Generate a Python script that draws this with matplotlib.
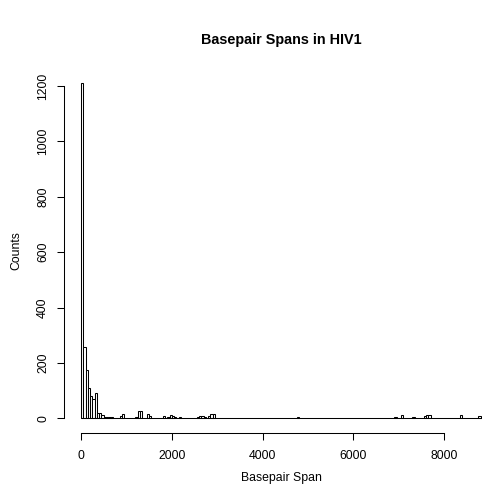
import matplotlib
matplotlib.use("Agg")
import matplotlib.pyplot as plt
import numpy as np

# histogram of basepair spans, 50 bp bins (left edges of non-empty bins)
bin_width = 50
bin_left = [0, 50, 100, 150, 200, 250, 300, 350, 400, 450, 500, 550, 600, 650,
            850, 900, 1200, 1250, 1300, 1450, 1500, 1800, 1900, 1950, 2000,
            2050, 2150, 2550, 2600, 2650, 2700, 2800, 2850, 2900, 4750, 6900,
            7050, 7300, 7550, 7600, 7650, 8350, 8750]
counts = [1210, 258, 174, 108, 80, 70, 90, 20, 18, 12, 5, 3, 4, 3,
          10, 14, 5, 28, 28, 15, 10, 10, 6, 12, 8,
          4, 3, 6, 8, 8, 5, 10, 16, 16, 3, 4,
          12, 4, 10, 12, 12, 12, 8]
data_max = 8850

x_ticks = [0, 2000, 4000, 6000, 8000]
y_ticks = [0, 200, 400, 600, 800, 1000, 1200]

plt.rcParams['font.family'] = ['Liberation Sans', 'DejaVu Sans']

W, H = 482, 492
fig = plt.figure(figsize=(W / 100, H / 100), dpi=100)
ax = fig.add_axes([64.3 / W, (H - 433) / H, (W - 64.3) / W, (433 - 70) / H])

ax.bar(bin_left, counts, width=bin_width, align="edge",
       facecolor="white", edgecolor="black", linewidth=0.75)
# empty bins show up as a flat line along zero
ax.hlines(0, 0, data_max, color="black", linewidth=0.75)

ax.set_xlim(-368, 8833)
ax.set_ylim(-53, 1258)

for side in ["top", "right"]:
    ax.spines[side].set_visible(False)
ax.spines["bottom"].set_bounds(0, 8000)
ax.spines["left"].set_bounds(0, 1200)
ax.spines["bottom"].set_linewidth(0.75)
ax.spines["left"].set_linewidth(0.75)

ax.set_xticks(x_ticks)
ax.set_yticks(y_ticks)
ax.set_yticklabels([str(v) for v in y_ticks], rotation=90, va="center")
ax.tick_params(axis="both", length=5, width=0.75, labelsize=8.8)
ax.tick_params(axis="x", pad=7)
ax.tick_params(axis="y", pad=6)

fig.text(281.7 / W, 1 - 40 / H, "Basepair Spans in HIV1", ha="center",
         va="center", fontsize=10.4, fontweight="bold")
fig.text(281.7 / W, 1 - 478 / H, "Basepair Span", ha="center", va="center",
         fontsize=8.8)
fig.text(16.7 / W, 1 - 251 / H, "Counts", ha="center", va="center",
         rotation=90, fontsize=8.8)

fig.savefig("out.png", dpi=100)
